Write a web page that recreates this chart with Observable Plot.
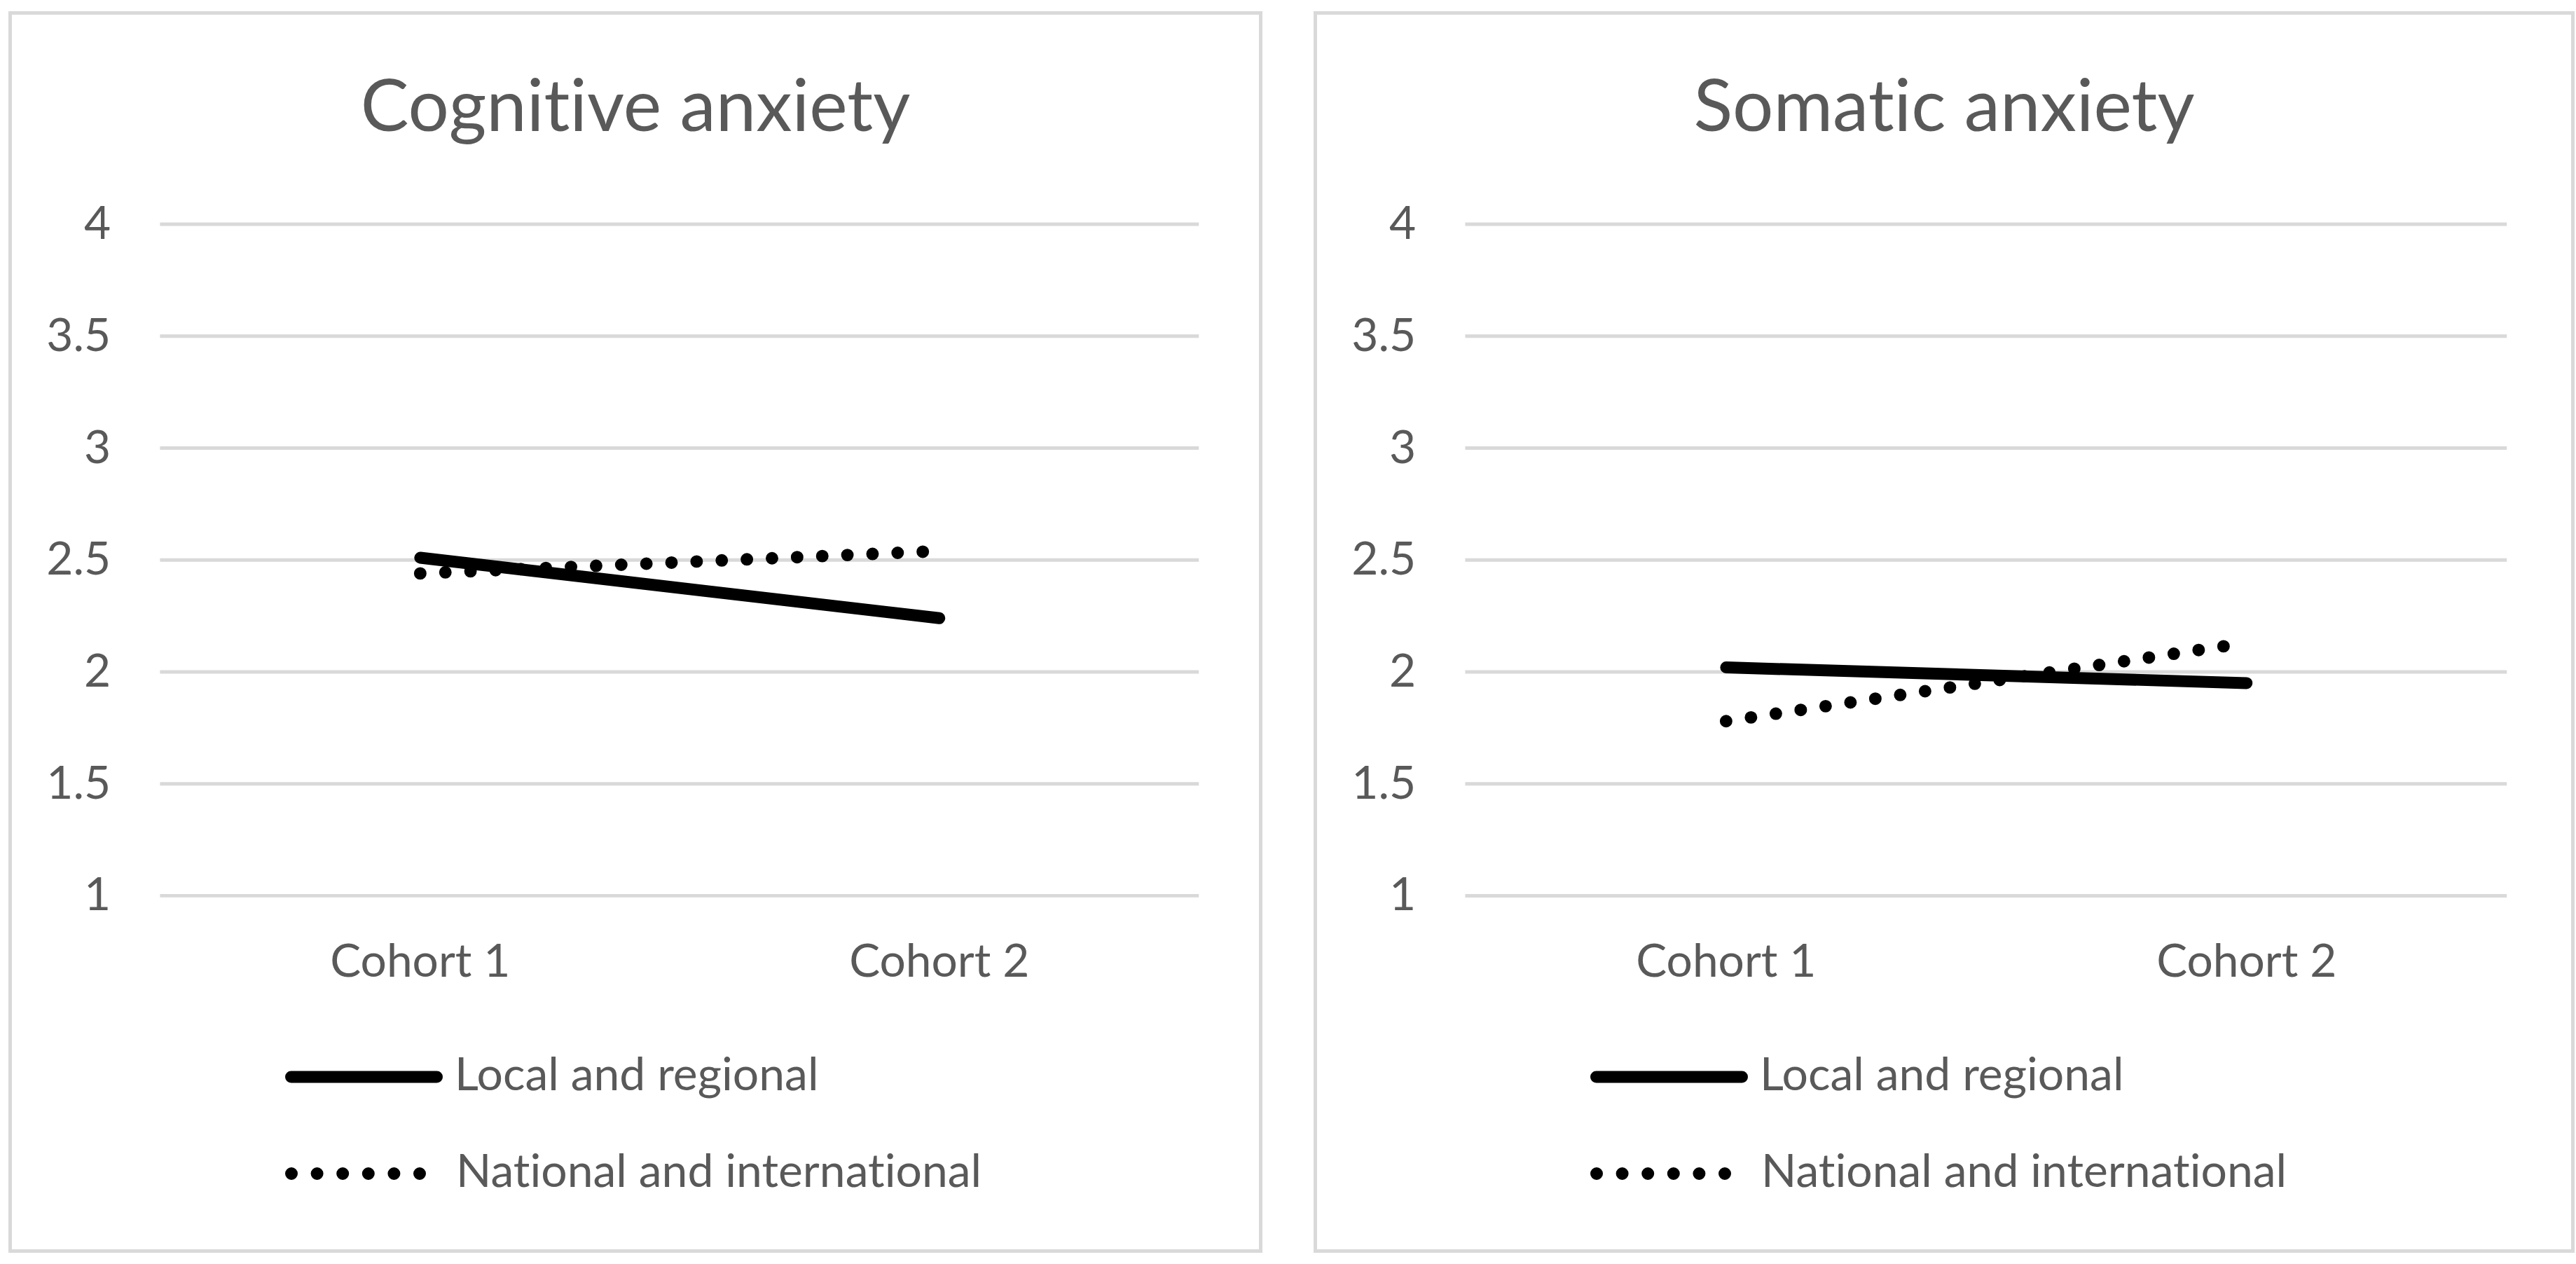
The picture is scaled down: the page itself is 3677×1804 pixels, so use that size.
<!DOCTYPE html>
<html><head><meta charset="utf-8">
<script src="https://cdn.jsdelivr.net/npm/d3@7"></script>
<script src="https://cdn.jsdelivr.net/npm/@observablehq/plot@0.6"></script>
<style>
html,body{margin:0;padding:0;background:#fff;}
body{width:3677px;height:1804px;position:relative;overflow:hidden;font-family:Lato,"Open Sans",sans-serif;font-variant-ligatures:none;}
svg, svg text{font-variant-ligatures:none;}
.frame{position:absolute;box-sizing:border-box;border:5px solid #d9d9d9;background:#fff;}
.title{position:absolute;left:-5px;right:-5px;text-align:center;color:#595959;font-size:103px;line-height:1;white-space:nowrap;}
.plotwrap{position:absolute;}
.plotwrap svg{overflow:visible;display:block;}
.legend{position:absolute;overflow:visible;}
</style></head><body>
<script>
// ---- data ----
const cohorts = ["Cohort 1", "Cohort 2"];
const seriesNames = ["Local and regional", "National and international"];
const panelTitles = ["Cognitive anxiety", "Somatic anxiety"];
const cognitiveLocal = [2.51, 2.24];
const cognitiveNational = [2.44, 2.54];
const somaticLocal = [2.02, 1.95];
const somaticNational = [1.78, 2.13];
const yTicks = [1, 1.5, 2, 2.5, 3, 3.5, 4];
const yTickLabels = ["1", "1.5", "2", "2.5", "3", "3.5", "4"];

// ---- styles ----
const seriesStyles = [
  {strokeWidth: 17, strokeDasharray: null, legendDash: null},
  {strokeWidth: 18, strokeDasharray: "0,36", legendDash: "0,36.6"}
];
const panels = [
  {title: panelTitles[0], local: cognitiveLocal, national: cognitiveNational, left: 12, top: 16, width: 1790, height: 1772, marginRight: 86},
  {title: panelTitles[1], local: somaticLocal, national: somaticNational, left: 1875, top: 16, width: 1800, height: 1772, marginRight: 92}
];
const textColor = "#595959";
const fontSize = 66;

function toRows(values) {
  return cohorts.map((c, i) => ({cohort: c, value: values[i]}));
}

panels.forEach(p => {
  const frame = document.createElement("div");
  frame.className = "frame";
  Object.assign(frame.style, {left: p.left + "px", top: p.top + "px", width: p.width + "px", height: p.height + "px"});
  document.body.appendChild(frame);

  const title = document.createElement("div");
  title.className = "title";
  title.textContent = p.title;
  title.style.top = (171 - 0.887 * 103 - 5) + "px";
  frame.appendChild(title);

  const seriesData = [toRows(p.local), toRows(p.national)];
  const lineMarks = seriesData.map((rows, i) => Plot.line(rows, {
    x: "cohort", y: "value", stroke: "#000",
    strokeWidth: seriesStyles[i].strokeWidth,
    strokeDasharray: seriesStyles[i].strokeDasharray,
    strokeLinecap: "round", strokeLinejoin: "round"
  }));

  const chart = Plot.plot({
    width: p.width, height: 1250,
    marginLeft: 217, marginRight: p.marginRight, marginTop: 154, marginBottom: 135,
    style: {fontFamily: "Lato, 'Open Sans', sans-serif", fontSize: fontSize + "px", color: textColor, background: "transparent", overflow: "visible"},
    x: {type: "point", domain: cohorts, padding: 0.5, label: null},
    y: {domain: [1, 4], label: null},
    marks: [
      Plot.gridY(yTicks, {stroke: "#d9d9d9", strokeOpacity: 1, strokeWidth: 5}),
      Plot.axisY(yTicks, {tickSize: 0, tickPadding: 71, tickFormat: d => yTickLabels[yTicks.indexOf(d)], fill: textColor, fontSize: fontSize, label: null}),
      Plot.axisX({tickSize: 0, tickPadding: 69, fill: textColor, fontSize: fontSize, label: null}),
      ...lineMarks
    ]
  });
  const wrap = document.createElement("div");
  wrap.className = "plotwrap";
  wrap.style.left = "-5px";
  wrap.style.top = (150 - 5) + "px";
  wrap.appendChild(chart);
  frame.appendChild(wrap);

  // legend
  const legendTop = 1450;
  const svg = d3.create("svg")
    .attr("class", "legend")
    .attr("width", p.width).attr("height", 300)
    .style("left", "-5px").style("top", (legendTop - 5) + "px")
    .style("position", "absolute");
  const rowsY = [1521 - legendTop, 1659 - legendTop];
  const swatchX = [[403.5, 611.5], [404, 589]];
  const textX = [637, 639];
  seriesNames.forEach((name, i) => {
    const ln = svg.append("line")
      .attr("x1", swatchX[i][0]).attr("x2", swatchX[i][1])
      .attr("y1", rowsY[i]).attr("y2", rowsY[i])
      .attr("stroke", "#000")
      .attr("stroke-width", seriesStyles[i].strokeWidth)
      .attr("stroke-linecap", "round");
    if (seriesStyles[i].legendDash) ln.attr("stroke-dasharray", seriesStyles[i].legendDash);
    svg.append("text")
      .attr("x", textX[i]).attr("y", rowsY[i] + 19)
      .attr("fill", textColor)
      .attr("font-family", "Lato, 'Open Sans', sans-serif")
      .attr("font-size", fontSize)
      .text(name);
  });
  frame.appendChild(svg.node());
});
</script>
</body></html>
